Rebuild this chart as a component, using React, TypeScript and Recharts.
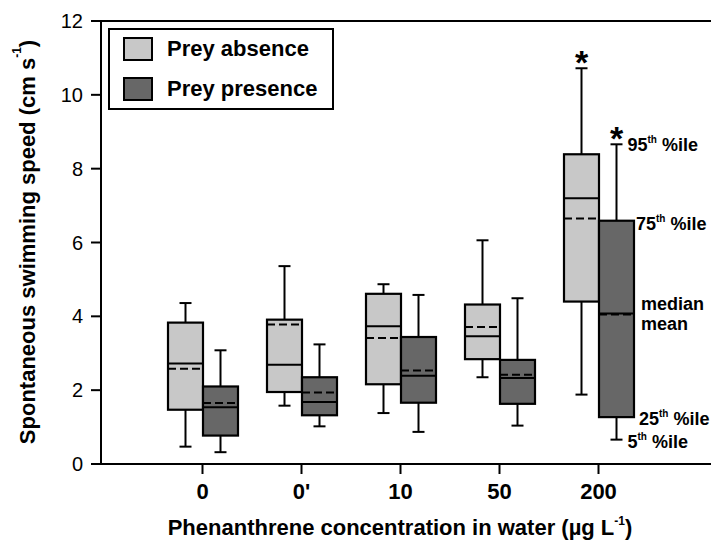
import React from "react";
import { ComposedChart, Bar, XAxis, YAxis, ReferenceLine, Legend, Label } from "recharts";

const FONT = '"Liberation Sans", Arial, Helvetica, sans-serif';
const LIGHT = "#c8c8c8";
const DARK = "#676767";

// groups on the x axis
const categories = ["0", "0'", "10", "50", "200"];
const seriesNames = ["Prey absence", "Prey presence"];

// prey absence: 5th, 25th, median, mean, 75th, 95th percentile
const absenceP5 = [0.47, 1.58, 1.38, 2.35, 1.88];
const absenceP25 = [1.47, 1.95, 2.16, 2.84, 4.4];
const absenceMedian = [2.72, 2.69, 3.73, 3.46, 7.2];
const absenceMean = [2.58, 3.78, 3.41, 3.71, 6.65];
const absenceP75 = [3.83, 3.91, 4.61, 4.32, 8.39];
const absenceP95 = [4.36, 5.36, 4.87, 6.06, 10.72];
const absenceStar = [false, false, false, false, true];

// prey presence
const presenceP5 = [0.32, 1.02, 0.87, 1.04, 0.66];
const presenceP25 = [0.77, 1.32, 1.66, 1.63, 1.27];
const presenceMedian = [1.54, 1.68, 2.39, 2.33, 4.08];
const presenceMean = [1.65, 1.94, 2.53, 2.42, 4.05];
const presenceP75 = [2.1, 2.35, 3.44, 2.82, 6.59];
const presenceP95 = [3.08, 3.24, 4.58, 4.49, 8.66];
const presenceStar = [false, false, false, false, true];

const yTicks = [0, 2, 4, 6, 8, 10, 12];

type Stats = {
  p5: number[];
  p25: number[];
  median: number[];
  mean: number[];
  p75: number[];
  p95: number[];
  star: boolean[];
};

const absence: Stats = {
  p5: absenceP5, p25: absenceP25, median: absenceMedian, mean: absenceMean,
  p75: absenceP75, p95: absenceP95, star: absenceStar,
};
const presence: Stats = {
  p5: presenceP5, p25: presenceP25, median: presenceMedian, mean: presenceMean,
  p75: presenceP75, p95: presenceP95, star: presenceStar,
};

// each bar spans the whiskers (5th..95th); the shape draws the rest of the box
const data = categories.map((cat, i) => ({
  cat,
  absence: [absenceP5[i], absenceP95[i]],
  presence: [presenceP5[i], presenceP95[i]],
}));

const txt = { fontFamily: FONT, fontWeight: "bold" as const, fill: "#000" };

function Note({ x, y, main, sup, rest }: { x: number; y: number; main: string; sup?: string; rest?: string }) {
  return (
    <text x={x} y={y} fontSize={18} {...txt}>
      {main}
      {sup && (
        <tspan fontSize={10} dy={-8}>
          {sup}
        </tspan>
      )}
      {rest && <tspan dy={sup ? 8 : 0}>{rest}</tspan>}
    </text>
  );
}

function makeBox(s: Stats, fill: string, notes: boolean) {
  return (props: any) => {
    const { x, y, width, height, index } = props;
    const lo = s.p5[index];
    const hi = s.p95[index];
    const k = height / (hi - lo);
    const py = (v: number) => y + (hi - v) * k;
    const cx = x + width / 2;
    const top = py(s.p75[index]);
    const bot = py(s.p25[index]);
    const capW = 6;
    const last = notes && index === categories.length - 1;
    return (
      <g>
        <line x1={cx} x2={cx} y1={py(hi)} y2={top} stroke="#000" strokeWidth={2} />
        <line x1={cx} x2={cx} y1={bot} y2={py(lo)} stroke="#000" strokeWidth={2} />
        <line x1={cx - capW} x2={cx + capW} y1={py(hi)} y2={py(hi)} stroke="#000" strokeWidth={2} />
        <line x1={cx - capW} x2={cx + capW} y1={py(lo)} y2={py(lo)} stroke="#000" strokeWidth={2} />
        <rect x={x} y={top} width={width} height={bot - top} fill={fill} stroke="#000" strokeWidth={2.2} />
        <line x1={x} x2={x + width} y1={py(s.median[index])} y2={py(s.median[index])} stroke="#000" strokeWidth={2} />
        <line
          x1={x}
          x2={x + width}
          y1={py(s.mean[index])}
          y2={py(s.mean[index])}
          stroke="#000"
          strokeWidth={2}
          strokeDasharray="8 4"
        />
        {s.star[index] && (
          <text x={cx} y={py(hi) + 6} textAnchor="middle" fontSize={34} {...txt}>
            *
          </text>
        )}
        {last && (
          <g>
            <Note x={cx + 11} y={py(hi) + 7} main="95" sup="th" rest=" %ile" />
            <Note x={x + width + 2} y={top + 9} main="75" sup="th" rest=" %ile" />
            <Note x={x + width + 7} y={py(s.median[index]) - 3} main="median" />
            <Note x={x + width + 7} y={py(s.mean[index]) + 16} main="mean" />
            <Note x={x + width + 5} y={bot + 8} main="25" sup="th" rest=" %ile" />
            <Note x={cx + 11} y={py(lo) + 8} main="5" sup="th" rest=" %ile" />
          </g>
        )}
      </g>
    );
  };
}

const swatchColors = [LIGHT, DARK];

const renderLegend = () => (
  <div
    style={{
      position: "relative",
      width: 226,
      height: 82,
      boxSizing: "border-box",
      border: "2px solid #000",
      background: "#fff",
      fontFamily: FONT,
    }}
  >
    {seriesNames.map((name, i) => (
      <div key={name} style={{ position: "absolute", left: 13, top: 7 + i * 40, height: 24, display: "flex", alignItems: "center" }}>
        <div style={{ width: 30, height: 24, boxSizing: "border-box", border: "2px solid #000", background: swatchColors[i] }} />
        <span style={{ marginLeft: 14, fontSize: 22, fontWeight: "bold", color: "#000", whiteSpace: "nowrap" }}>{name}</span>
      </div>
    ))}
  </div>
);

export default function App() {
  return (
    <div style={{ position: "absolute", left: 0, top: 0, background: "#fff" }}>
      <ComposedChart
        width={711}
        height={541}
        data={data}
        margin={{ top: 21, right: 0, bottom: 0, left: 0 }}
        barSize={35}
        barGap={0}
      >
        <XAxis
          dataKey="cat"
          type="category"
          height={77}
          padding={{ left: 52, right: 63 }}
          axisLine={{ stroke: "#000", strokeWidth: 2 }}
          tickLine={{ stroke: "#000", strokeWidth: 2 }}
          tickSize={10}
          tickMargin={9}
          tick={{ fontSize: 22, fontWeight: "bold", fill: "#000", fontFamily: FONT }}
          interval={0}
        >
          <Label
            content={(p: any) => {
              const vb = p.viewBox || { x: 101, width: 610, y: 464, height: 77 };
              return (
                <text x={vb.x + vb.width / 2 - 6} y={535} textAnchor="middle" fontSize={22} {...txt}>
                  Phenanthrene concentration in water (µg L
                  <tspan fontSize={12} dy={-10}>-1</tspan>
                  <tspan dy={10}>)</tspan>
                </text>
              );
            }}
          />
        </XAxis>
        <YAxis
          type="number"
          domain={[0, 12]}
          ticks={yTicks}
          width={101}
          axisLine={{ stroke: "#000", strokeWidth: 2 }}
          tickLine={{ stroke: "#000", strokeWidth: 2 }}
          tickSize={10}
          tickMargin={8}
          tick={{ fontSize: 20, fill: "#000", fontFamily: FONT }}
        >
          <Label
            content={() => (
              <text
                x={27}
                y={242}
                transform="rotate(-90 27 242)"
                textAnchor="middle"
                dominantBaseline="central"
                fontSize={22}
                {...txt}
              >
                Spontaneous swimming speed (cm s
                <tspan fontSize={12} dy={-10}>-1</tspan>
                <tspan dy={10}>)</tspan>
              </text>
            )}
          />
        </YAxis>
        <ReferenceLine y={12} stroke="#000" strokeWidth={2} />
        <Legend
          content={renderLegend}
          layout="vertical"
          align="center"
          verticalAlign="middle"
          wrapperStyle={{ left: 108, top: 28, width: 226, height: 82 }}
        />
        <Bar dataKey="absence" name={seriesNames[0]} fill={LIGHT} shape={makeBox(absence, LIGHT, false)} isAnimationActive={false} />
        <Bar dataKey="presence" name={seriesNames[1]} fill={DARK} shape={makeBox(presence, DARK, true)} isAnimationActive={false} />
      </ComposedChart>
    </div>
  );
}
